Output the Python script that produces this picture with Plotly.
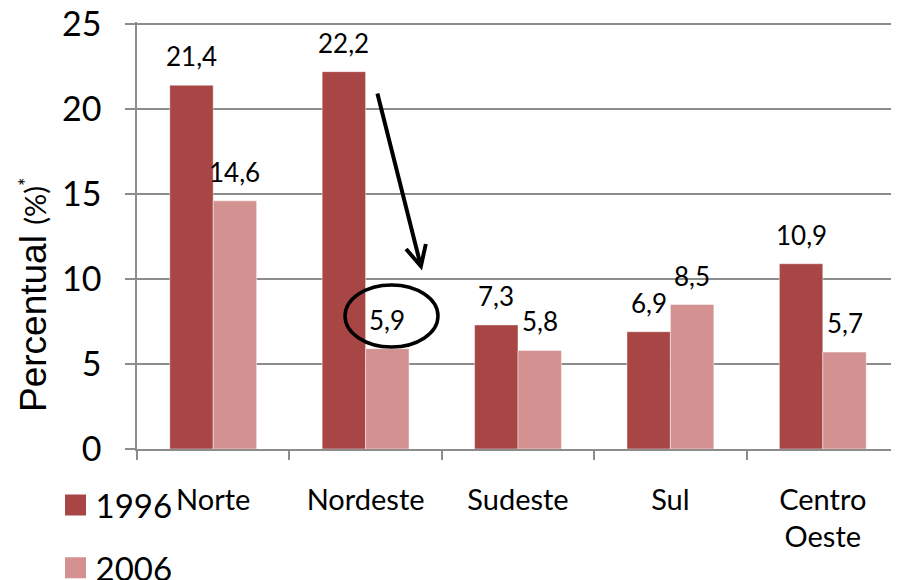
import plotly.graph_objects as go

# data
REGIONS = ["Norte", "Nordeste", "Sudeste", "Sul", "Centro<br>Oeste"]
VALUES_1996 = [21.4, 22.2, 7.3, 6.9, 10.9]
VALUES_2006 = [14.6, 5.9, 5.8, 8.5, 5.7]
YEARS = ["1996", "2006"]
COLORS = ["#A84646", "#D39191"]

FONT = "Lato"
# plot area in page pixels; the page body adds an 8px margin
OFF = 8
Y_TOP = 25.12          # a hair above 25 so plotly keeps the top gridline
L, W = 137, 762
H = 427
T = 449 - H
FIG_W, FIG_H = 899 - OFF, 580 - OFF


def fmt(v):
    return f"{v:.1f}".replace(".", ",")


def py(px):
    """page pixel row -> paper y"""
    return (449 - px) / H


fig = go.Figure()

for i, (year, vals) in enumerate(zip(YEARS, [VALUES_1996, VALUES_2006])):
    fig.add_trace(go.Bar(
        x=REGIONS, y=vals, name=year,
        marker=dict(color=COLORS[i], line=dict(color="rgba(255,255,255,0.45)", width=1)),
        showlegend=False,
    ))
    # legend entry (bigger square than the bar legend symbol)
    fig.add_trace(go.Scatter(
        x=[None], y=[None], mode="markers", name=year, legendgroup=year,
        marker=dict(symbol="square", size=16, color=COLORS[i],
                    line=dict(color=COLORS[i], width=5)),
    ))

# value labels above bars
bar_w = W / len(REGIONS) * (1 - 0.43) / 2
for i, vals in enumerate([VALUES_1996, VALUES_2006]):
    for r, v in zip(REGIONS, vals):
        fig.add_annotation(
            x=r, y=v, text=fmt(v), showarrow=False,
            xshift=(i - 0.5) * bar_w, yshift=29,
            font=dict(family=FONT, size=26, color="black"),
        )

# arrow Nordeste 1996 -> 2006
fig.add_annotation(
    x=1.37, y=10.5, ax=1.075, ay=21.0, xref="x", yref="y", axref="x", ayref="y",
    text="", showarrow=True, arrowhead=5, arrowsize=1, arrowwidth=4, arrowcolor="black",
)
# ellipse around 5,9
fig.add_shape(type="circle", xref="x", yref="y", x0=0.865, x1=1.475, y0=6.0, y1=9.65,
              line=dict(color="black", width=3.5))

# y title
fig.add_annotation(
    xref="paper", yref="paper", x=(33 - L) / W, y=py(295),
    xanchor="center", yanchor="middle", textangle=-90, showarrow=False,
    text="Percentual <span style='font-family:Lato;font-size:29px'>(%)<sup>*</sup></span>",
    font=dict(family="Liberation Sans", size=37, color="black"),
)

fig.update_layout(
    width=FIG_W, height=FIG_H,
    margin=dict(l=L - OFF, r=FIG_W - (L - OFF) - W, t=T - OFF,
                b=FIG_H - (T - OFF) - H, autoexpand=False),
    plot_bgcolor="white", paper_bgcolor="white",
    barmode="group", bargap=0.43, bargroupgap=0,
    font=dict(family=FONT, color="black"),
    showlegend=True,
    legend=dict(
        x=(55.5 - L) / W, y=py(477), xanchor="left", yanchor="top",
        font=dict(family=FONT, size=33), itemsizing="trace",
        tracegroupgap=17, traceorder="grouped", bgcolor="rgba(0,0,0,0)",
    ),
    xaxis=dict(
        range=[-0.5, 4.5], showgrid=False, showline=True, linecolor="#8C8C8C", linewidth=1.5,
        ticks="outside", tickson="boundaries", ticklen=9, tickcolor="#8C8C8C", tickwidth=1.5,
        tickfont=dict(family=FONT, size=29), ticklabelstandoff=24, automargin=False,
    ),
    yaxis=dict(
        range=[0, Y_TOP], tick0=0, dtick=5, showgrid=True, gridcolor="#8C8C8C", gridwidth=1.5,
        showline=True, linecolor="#8C8C8C", linewidth=1.5, zeroline=False,
        ticks="outside", ticklen=10, tickcolor="#8C8C8C", tickwidth=1.5,
        tickfont=dict(family=FONT, size=34), ticklabelstandoff=17, automargin=False,
        ticklabeloverflow="allow",
    ),
)

fig.write_html("out.html")
